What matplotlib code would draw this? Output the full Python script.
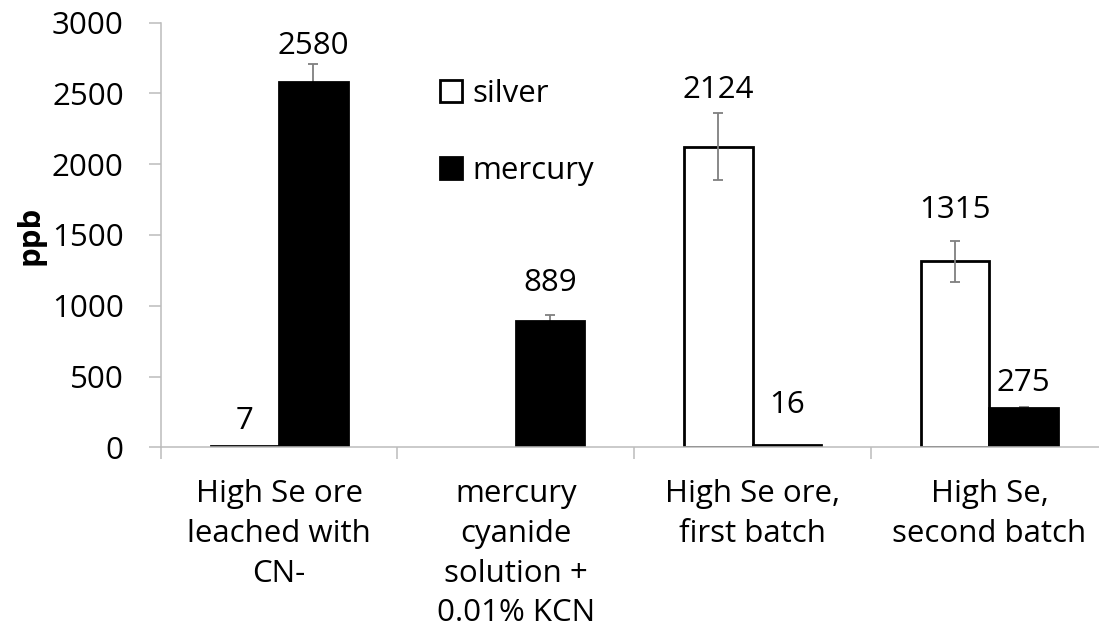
import numpy as np
import matplotlib
matplotlib.use("Agg")
import matplotlib.pyplot as plt
from matplotlib.patches import Patch

plt.rcParams['font.family'] = ['Open Sans', 'DejaVu Sans']

# Data
categories = ["High Se ore\nleached with\nCN-",
              "mercury\ncyanide\nsolution +\n0.01% KCN",
              "High Se ore,\nfirst batch",
              "High Se,\nsecond batch"]
silver = [7, np.nan, 2124, 1315]
mercury = [2580, 889, 16, 275]
silver_err = [0, np.nan, 235, 145]
mercury_err = [126, 43, 0, 8]
y_ticks = [0, 500, 1000, 1500, 2000, 2500, 3000]

# Label offsets above bar tops (points)
silver_label_off = [18, 0, 41, 37]
mercury_label_off = [26, 28, 29, 18]

W, H = 1099, 634
fig = plt.figure(figsize=(W / 100, H / 100), dpi=100)
ax = fig.add_axes([160.7 / W, (H - 447.3) / H, (1107.9 - 160.7) / W, (447.3 - 22.7) / H])

x = np.arange(len(categories))
bw = 0.289
fs = 22.5
axis_grey = '#BCBCBC'

s_idx = [i for i, v in enumerate(silver) if not np.isnan(v)]
ax.bar([x[i] - bw / 2 for i in s_idx], [silver[i] for i in s_idx], bw,
       color='white', edgecolor='black', linewidth=2, zorder=2, label='silver')
ax.bar(x + bw / 2, mercury, bw, color='black', edgecolor='black', linewidth=2,
       zorder=2, label='mercury')

# Error bars
se = [i for i in s_idx if silver_err[i] > 0]
ax.errorbar([x[i] - bw / 2 for i in se], [silver[i] for i in se],
            yerr=[silver_err[i] for i in se], fmt='none', ecolor='#7F7F7F',
            elinewidth=1.3, capsize=3.5, capthick=1.3, zorder=3)
me = [i for i in range(len(mercury)) if mercury_err[i] > 0]
ax.errorbar([x[i] + bw / 2 for i in me], [mercury[i] for i in me],
            yerr=[mercury_err[i] for i in me], fmt='none', ecolor='#7F7F7F',
            elinewidth=1.3, capsize=3.5, capthick=1.3, zorder=1)

# Value labels
for i in s_idx:
    ax.annotate(f"{silver[i]:g}", (x[i] - bw / 2, silver[i]),
                xytext=(0, silver_label_off[i]), textcoords='offset points',
                ha='center', va='center', fontsize=fs)
for i in range(len(mercury)):
    ax.annotate(f"{mercury[i]:g}", (x[i] + bw / 2, mercury[i]),
                xytext=(0, mercury_label_off[i]), textcoords='offset points',
                ha='center', va='center', fontsize=fs)

ax.set_xlim(-0.5, len(categories) - 0.5)
ax.set_ylim(0, 3000)
ax.set_yticks(y_ticks)
ax.set_yticklabels([str(t) for t in y_ticks], fontsize=fs)

ax.set_xticks(np.arange(len(categories) + 1) - 0.5)
ax.set_xticklabels([])
ax.set_xticks(x, minor=True)
ax.set_xticklabels(categories, minor=True, fontsize=fs, linespacing=1.42)

ax.tick_params(axis='y', length=8.6, width=1.1, color=axis_grey, pad=18)
ax.tick_params(axis='x', which='major', length=8.6, width=1.1, color=axis_grey)
ax.tick_params(axis='x', which='minor', length=0, pad=23)

for s in ['top', 'right']:
    ax.spines[s].set_visible(False)
for s in ['left', 'bottom']:
    ax.spines[s].set_color(axis_grey)
    ax.spines[s].set_linewidth(1.1)

ax.set_ylabel('ppb', fontsize=fs, fontweight='bold')
ax.yaxis.set_label_coords(-0.122, 0.5)

handles = [Patch(facecolor='white', edgecolor='black', linewidth=2),
           Patch(facecolor='black', edgecolor='black', linewidth=2)]
ax.legend(handles, ['silver', 'mercury'], loc='upper left',
          bbox_to_anchor=(440 / W, (H - 79) / H), bbox_transform=fig.transFigure,
          frameon=False, fontsize=fs, handlelength=0.7, handleheight=0.7,
          handletextpad=0.35, labelspacing=1.5, borderpad=0, borderaxespad=0)

fig.savefig('out.png', dpi=100)
